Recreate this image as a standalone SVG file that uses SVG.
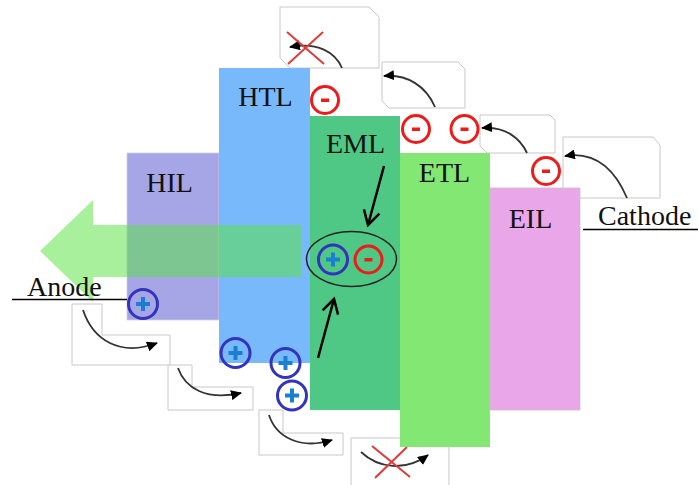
<svg xmlns="http://www.w3.org/2000/svg" width="698" height="485" viewBox="0 0 698 485">
  <style>
    .box { fill: #ffffff; stroke: #c8c8c8; stroke-width: 1; }
    .curve { fill: none; stroke: #333333; stroke-width: 1.8; marker-end: url(#head); }
    .cross { stroke: #e03a3a; stroke-width: 2; }
    .label { font-family: "Liberation Serif", "Times New Roman", serif; font-size: 28px; fill: #111111; }
    .minus-ring { fill: none; stroke: #ee1b1b; stroke-width: 3; }
    .minus-bar { fill: #ee1b1b; }
    .plus-ring { fill: none; stroke: #3333bb; stroke-width: 3; }
    .plus-bar { stroke: #1a7fd0; stroke-width: 4; }
    .move { fill: none; stroke: #000000; stroke-width: 2.5; marker-end: url(#open); }
    .rule { stroke: #000000; stroke-width: 1.5; }
  </style>
  <defs>
    <marker id="head" markerUnits="userSpaceOnUse" markerWidth="12" markerHeight="10" refX="10" refY="5" orient="auto">
      <path d="M0,0 L11,5 L0,10 Z" fill="#000000"/>
    </marker>
    <marker id="open" markerUnits="userSpaceOnUse" markerWidth="18" markerHeight="20" refX="15" refY="10" orient="auto">
      <path d="M1,2 L15,10 L1,18" fill="none" stroke="#000000" stroke-width="2.5"/>
    </marker>
    <g id="minus">
      <circle class="minus-ring" r="13.5"/>
      <rect class="minus-bar" x="-4" y="-1.5" width="8" height="3.5"/>
    </g>
    <g id="plus">
      <circle class="plus-ring" r="14.5"/>
      <path class="plus-bar" d="M-7,0 H7 M0,-7 V7"/>
    </g>
  </defs>

  <!-- small step sketches behind the stack -->
  <g id="sketches">
    <g id="sketch-top-blocked">
      <path class="box" d="M280,7 L369,7 L379,17 L379,68 L290,68 L280,58 Z"/>
      <path class="curve" d="M342,68 C335,52 318,42 290,47"/>
      <path class="cross" d="M287,32 L324,64 M323,32 L288,64"/>
    </g>
    <g id="sketch-htl-eml">
      <path class="box" d="M382,62 L458,62 L465,69 L465,108 L389,108 L382,101 Z"/>
      <path class="curve" d="M435,107 C426,86 407,74 384,76"/>
    </g>
    <g id="sketch-eml-etl">
      <path class="box" d="M480,115 L550,115 L555,120 L555,153 L487,153 L480,146 Z"/>
      <path class="curve" d="M527,153 C520,138 505,126 482,128"/>
    </g>
    <g id="sketch-etl-eil">
      <path class="box" d="M563,137 L653,137 L660,145 L660,198 L570,198 L563,191 Z"/>
      <path class="curve" d="M627,198 C615,170 596,151 565,156"/>
    </g>
    <g id="sketch-anode-hil">
      <path class="box" d="M72,304 L102,304 L102,335 L170,335 L170,365 L72,365 Z"/>
      <path class="curve" d="M83,310 C93,340 120,357 157,343"/>
    </g>
    <g id="sketch-hil-htl">
      <path class="box" d="M168,365 L192,365 L192,387 L253,387 L253,410 L168,410 Z"/>
      <path class="curve" d="M178,368 C185,388 206,401 241,393"/>
    </g>
    <g id="sketch-htl-eml-hole">
      <path class="box" d="M259,410 L283,410 L283,433 L343,433 L343,455 L259,455 Z"/>
      <path class="curve" d="M269,415 C276,437 300,450 332,440"/>
    </g>
    <g id="sketch-bottom-blocked">
      <rect class="box" x="351" y="438" width="98" height="52"/>
      <path class="curve" d="M361,452 C378,468 405,472 428,455"/>
      <path class="cross" d="M372,446 L410,477 M407,447 L375,478"/>
    </g>
  </g>

  <!-- device layers -->
  <g id="HIL">
    <rect x="127" y="153" width="92" height="167" fill="#a6a6e7" stroke="#cfcfe0" stroke-width="0.8"/>
    <text class="label" x="169.5" y="192" text-anchor="middle">HIL</text>
  </g>
  <g id="HTL">
    <rect x="219" y="68" width="91" height="295" fill="#77b9fb"/>
    <text class="label" x="265.5" y="106" text-anchor="middle">HTL</text>
  </g>
  <g id="EML">
    <rect x="310" y="116" width="90" height="294" fill="#4fc886"/>
    <text class="label" x="355.5" y="153" text-anchor="middle">EML</text>
  </g>
  <g id="ETL">
    <rect x="400" y="153" width="90" height="294" fill="#82e873"/>
    <text class="label" x="444.5" y="182" text-anchor="middle">ETL</text>
  </g>
  <g id="EIL">
    <rect x="490" y="188" width="90" height="222" fill="#e9a6e8" stroke="#c9c0c9" stroke-width="0.8"/>
    <text class="label" x="530.5" y="228" text-anchor="middle">EIL</text>
  </g>

  <!-- emitted light -->
  <g id="light">
    <path d="M301,225 L93,225 L93,200 L40,251 L93,302 L93,277 L301,277 Z" fill="#5be244" fill-opacity="0.53"/>
  </g>

  <!-- electrodes -->
  <g id="anode">
    <text class="label" x="27" y="296">Anode</text>
    <line class="rule" x1="12" y1="299.5" x2="127" y2="299.5"/>
  </g>
  <g id="cathode">
    <text class="label" x="598" y="225">Cathode</text>
    <line class="rule" x1="583" y1="229.5" x2="698" y2="229.5"/>
  </g>

  <!-- carriers -->
  <g id="electrons">
    <use href="#minus" x="325" y="100"/>
    <use href="#minus" x="416" y="129"/>
    <use href="#minus" x="464.5" y="129"/>
    <use href="#minus" x="546" y="171"/>
  </g>
  <g id="holes">
    <use href="#plus" x="143" y="304"/>
    <use href="#plus" x="235.5" y="353"/>
    <use href="#plus" x="285.5" y="363"/>
    <use href="#plus" x="292" y="395.5"/>
  </g>

  <!-- recombination in the emitting layer -->
  <g id="exciton">
    <ellipse cx="351.5" cy="259" rx="45" ry="27.5" fill="none" stroke="#222222" stroke-width="1.5"/>
    <use href="#plus" x="333" y="259.5"/>
    <use href="#minus" x="368.5" y="259.5"/>
  </g>

  <g id="connectors">
    <path class="move" d="M384,166 L368,225"/>
    <path class="move" d="M318,358 L334,299"/>
  </g>
</svg>
